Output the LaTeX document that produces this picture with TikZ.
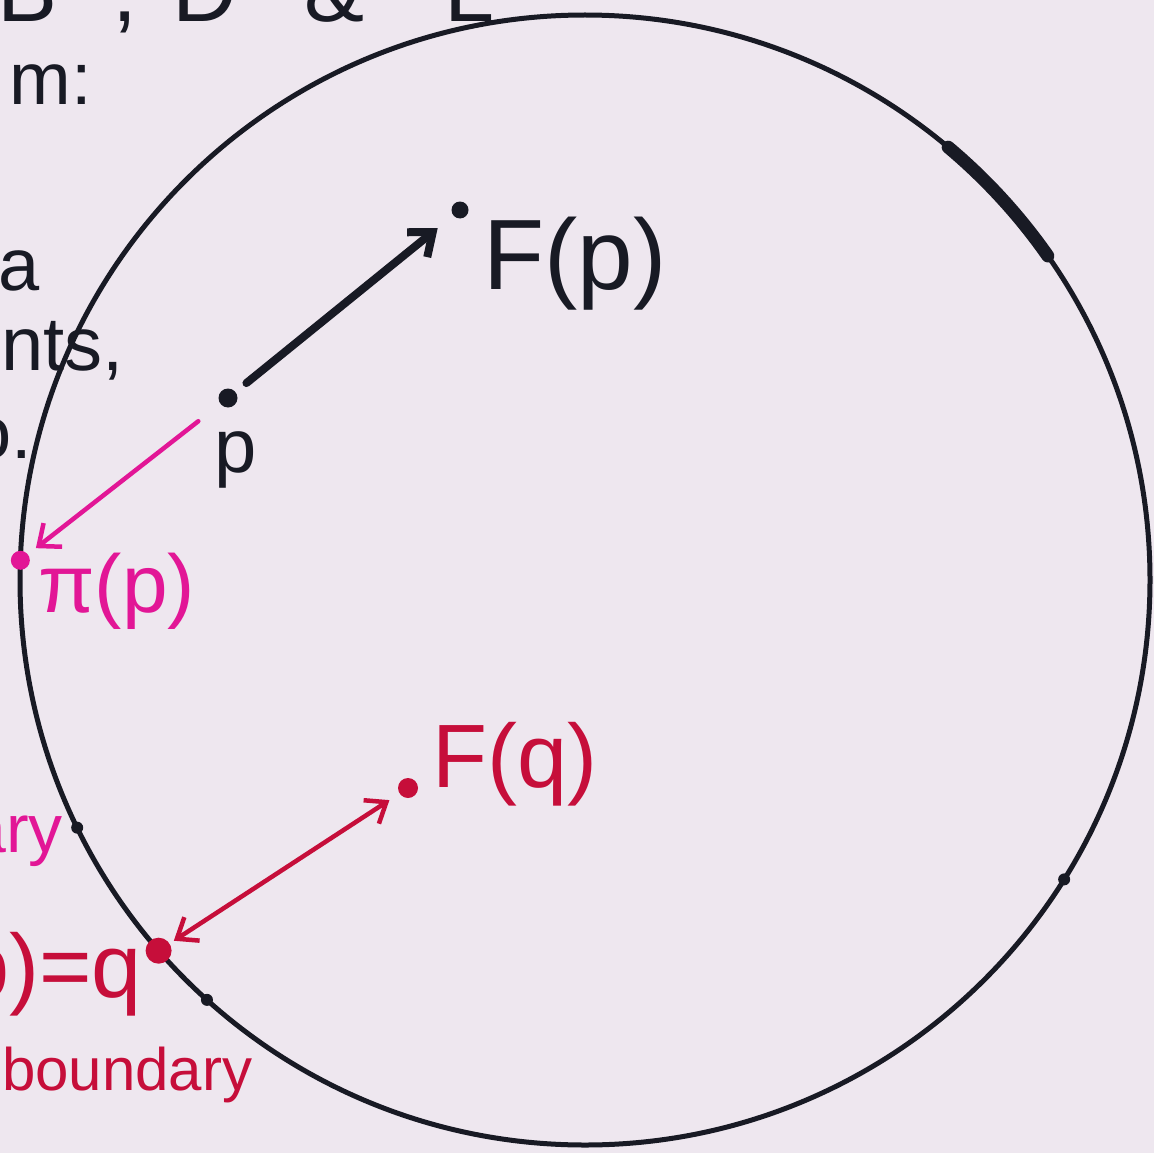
\documentclass[tikz,border=0pt]{standalone}
\usepackage{fontspec}
\setmainfont{Liberation Sans}
\usetikzlibrary{arrows.meta, positioning}
\definecolor{papercol}{RGB}{238, 231, 239}
\definecolor{inkcol}{RGB}{24, 26, 36}
\definecolor{pinkcol}{RGB}{226, 22, 150}
\definecolor{redcol}{RGB}{198, 14, 58}
\tikzset{
  rim/.style    = {draw=inkcol, line width=5pt, circle, inner sep=0pt,
                   outer sep=0pt},
  dot/.style    = {circle, fill=#1, inner sep=0pt, minimum size=19pt},
  hand/.style   = {inner sep=0pt, font=\fontsize{#1}{#1}\selectfont},
  margin/.style = {hand=74, text=inkcol},
  % the three marker strokes, one per pen
  flow/.style   = {-{Straight Barb[length=20pt, width=32pt]}, draw=inkcol,
                   line width=8pt, line cap=round},
  proj/.style   = {-{Straight Barb[length=18pt, width=30pt]}, draw=pinkcol,
                   line width=4.5pt, line cap=round},
  dist/.style   = {{Straight Barb[length=18pt, width=28pt]}-{Straight Barb[length=18pt, width=28pt]},
                   draw=redcol, line width=4.5pt, line cap=round},
}
\begin{document}
\begin{tikzpicture}[x=1pt, y=1pt]

  %% ---------------- paper ----------------
  \fill[papercol] (0,0) rectangle (1154,-1153);
  \useasboundingbox (0,0) rectangle (1154,-1153);

  %% ---------------- notes cut off at the page edge ----------------
  \foreach \x/\txt in {28/B, 125/{,}, 205/D, 335/\&, 470/L}
    \node[hand=90, text=inkcol, anchor=base] at (\x,-22) {\txt};
  \node[margin, anchor=base east] (nm) at (92,-105) {m:};
  \node[margin, anchor=base east] (na) at (40,-290) {a};
  \node[margin, hand=76, anchor=base east] (nints) at (124,-370) {points,};
  \node[margin, anchor=base east] (ndots) at (32,-458) {o.};
  \node[hand=68, text=pinkcol, anchor=base east] (nbd) at (63,-852) {boundary};
  \node[hand=90, text=redcol, anchor=base east] (neq) at (142,-997) {π(p)=q};
  \node[hand=60, text=redcol, anchor=base west] (nbound) at (2,-1090) {boundary};

  %% ---------------- the disk ----------------
  \node[rim, minimum size=1130pt] (disk) at (585,-580) {};
  \draw[draw=inkcol, line width=13pt, line cap=round]
    ([shift={(35:565)}]disk.center) arc[start angle=35, end angle=50, radius=565];
  \foreach \a in {206, 228, -32}
    \fill[inkcol] (disk.\a) circle[radius=6];

  %% ---------------- p and its image ----------------
  \node[dot=inkcol] (p) at (228,-398) {};
  \node[hand=76, text=inkcol, anchor=base] (plbl) at (236,-472) {p};
  \node[dot=inkcol, minimum size=17pt] (Fp) at (460,-210) {};
  \node[hand=100, text=inkcol, anchor=base west] (Fplbl) at (483,-289) {F(p)};
  \draw[flow, shorten <=14pt, shorten >=20pt] (p) -- (Fp);

  %% ---------------- nearest boundary point ----------------
  \node[dot=pinkcol] (pip) at (disk.178) {};
  \node[hand=82, text=pinkcol, anchor=base west] (piplbl) at (38,-612) {π(p)};
  \draw[proj, shorten <=28pt, shorten >=10pt] (p) -- (pip);

  %% ---------------- q on the boundary ----------------
  \node[dot=redcol, minimum size=26pt] (q) at (disk.221) {};
  \node[dot=redcol, minimum size=20pt] (Fq) at (408,-788) {};
  \node[hand=90, text=redcol, anchor=base west] (Fqlbl) at (432,-787) {F(q)};
  \draw[dist, shorten <=5pt, shorten >=12pt] (q) -- (Fq);

\end{tikzpicture}
\end{document}
